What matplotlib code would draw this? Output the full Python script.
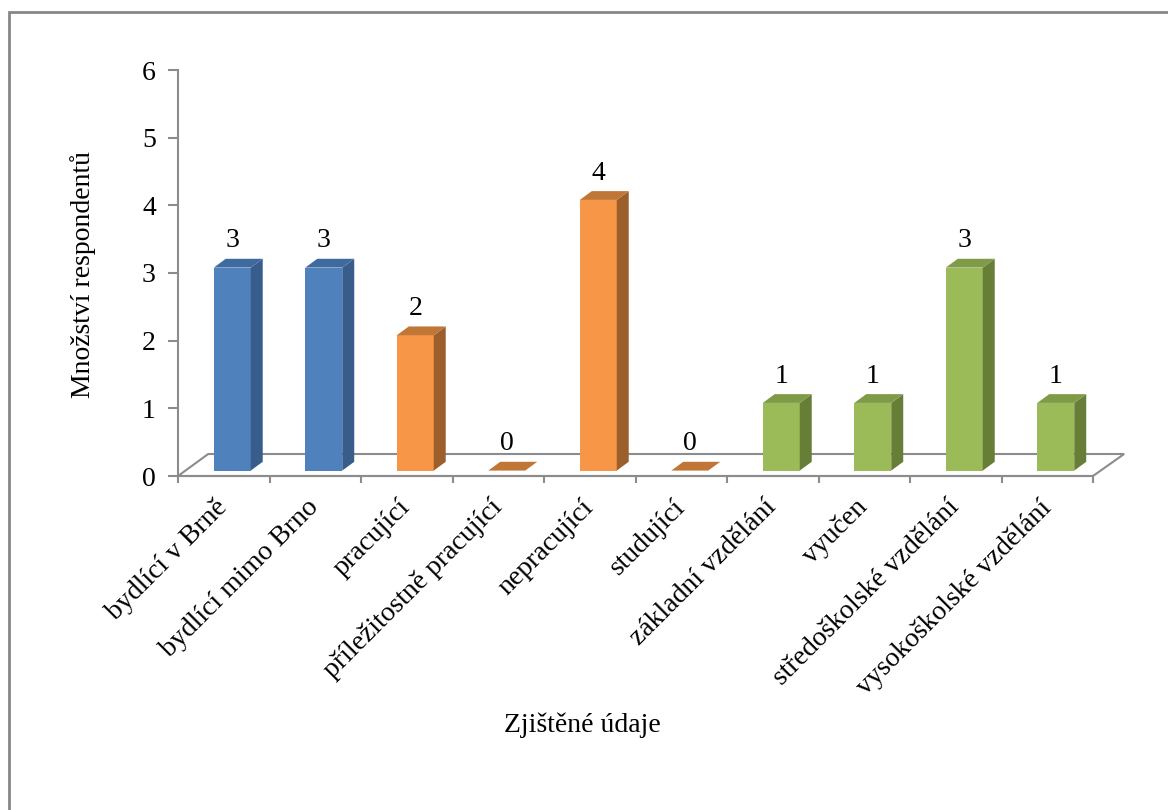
import matplotlib.pyplot as plt
from matplotlib.patches import Polygon, Rectangle

categories = ['bydlící v Brně', 'bydlící mimo Brno', 'pracující', 'příležitostně pracující',
              'nepracující', 'studující', 'základní vzdělání', 'vyučen',
              'středoškolské vzdělání', 'vysokoškolské vzdělání']
values = [3, 3, 2, 0, 4, 0, 1, 1, 3, 1]
groups = ['blue', 'blue', 'orange', 'orange', 'orange', 'orange',
          'green', 'green', 'green', 'green']

# front, side, top colours per group
colors = {
    'blue': ('#4f81bd', '#385d8a', '#3f6aa0'),
    'orange': ('#f79646', '#9c5f2c', '#c07636'),
    'green': ('#9bbb59', '#677e37', '#7f9b48'),
}

plt.rcParams['font.family'] = ['Liberation Serif', 'DejaVu Serif']
grey = '#8c8c8c'
fs = 20

fig = plt.figure(figsize=(11.68, 8.1), dpi=100)
ax = fig.add_axes([178/1168, 1 - 476/810, 915/1168, 406/810])
ax.set_xlim(0, 10)
ax.set_ylim(0, 6)

# 3D look parameters (data units)
floor_dx, floor_dy = 0.34, 0.325
face_dx, face_dy = 0.093, 0.08
bar_w = 0.404
side_dx, side_dy = 0.131, 0.13

# floor outline
floor = Polygon([(0, 0), (10, 0), (10 + floor_dx, floor_dy), (floor_dx * 0.97, floor_dy)],
                closed=True, facecolor='white', edgecolor=grey, lw=1.5, clip_on=False, zorder=1)
ax.add_patch(floor)

for i, (v, g) in enumerate(zip(values, groups)):
    front, side, top = colors[g]
    x0 = i + 0.5 - bar_w / 2 + face_dx
    x1 = x0 + bar_w
    y0 = face_dy
    y1 = face_dy + v
    if v > 0:
        ax.bar(x0, v, width=bar_w, bottom=y0, align='edge', color=front,
               edgecolor='none', zorder=3, clip_on=False)
        ax.add_patch(Polygon([(x1, y0), (x1 + side_dx, y0 + side_dy), (x1 + side_dx, y1 + side_dy), (x1, y1)],
                             closed=True, facecolor=side, edgecolor='none', zorder=3, clip_on=False))
    ax.add_patch(Polygon([(x0, y1), (x1, y1), (x1 + side_dx, y1 + side_dy), (x0 + side_dx, y1 + side_dy)],
                         closed=True, facecolor=top, edgecolor='none', zorder=3, clip_on=False))
    ax.text((x0 + x1) / 2, y1 + 0.3, str(v), ha='center', va='baseline', fontsize=fs, zorder=4)

for s in ['top', 'right']:
    ax.spines[s].set_visible(False)
for s in ['left', 'bottom']:
    ax.spines[s].set_color(grey)
    ax.spines[s].set_linewidth(1.5)

ax.set_yticks(range(0, 7))
ax.tick_params(axis='y', direction='out', length=7, width=1.5, color=grey, labelsize=fs, pad=9)

ax.set_xticks(range(0, 11))
ax.set_xticklabels([])
ax.tick_params(axis='x', which='major', direction='out', length=5, width=1.5, color=grey)
ax.set_xticks([i + 0.5 for i in range(10)], minor=True)
ax.set_xticklabels(categories, minor=True, rotation=45, ha='right', va='center',
                   rotation_mode='anchor', fontsize=fs)
ax.tick_params(axis='x', which='minor', length=0, pad=20)

fig.text(582/1168, 1 - 725/810, 'Zjištěné údaje', ha='center', va='center', fontsize=fs)
fig.text(83/1168, 1 - 275/810, 'Množství respondentů', ha='center', va='center',
         rotation=90, fontsize=fs)

fig.patches.append(Rectangle((9/1168, -0.1), 1.2, 1 - 12/810 + 0.1, transform=fig.transFigure,
                             fill=False, edgecolor='#878787', lw=2, zorder=0))

fig.savefig('out.png', dpi=100)
